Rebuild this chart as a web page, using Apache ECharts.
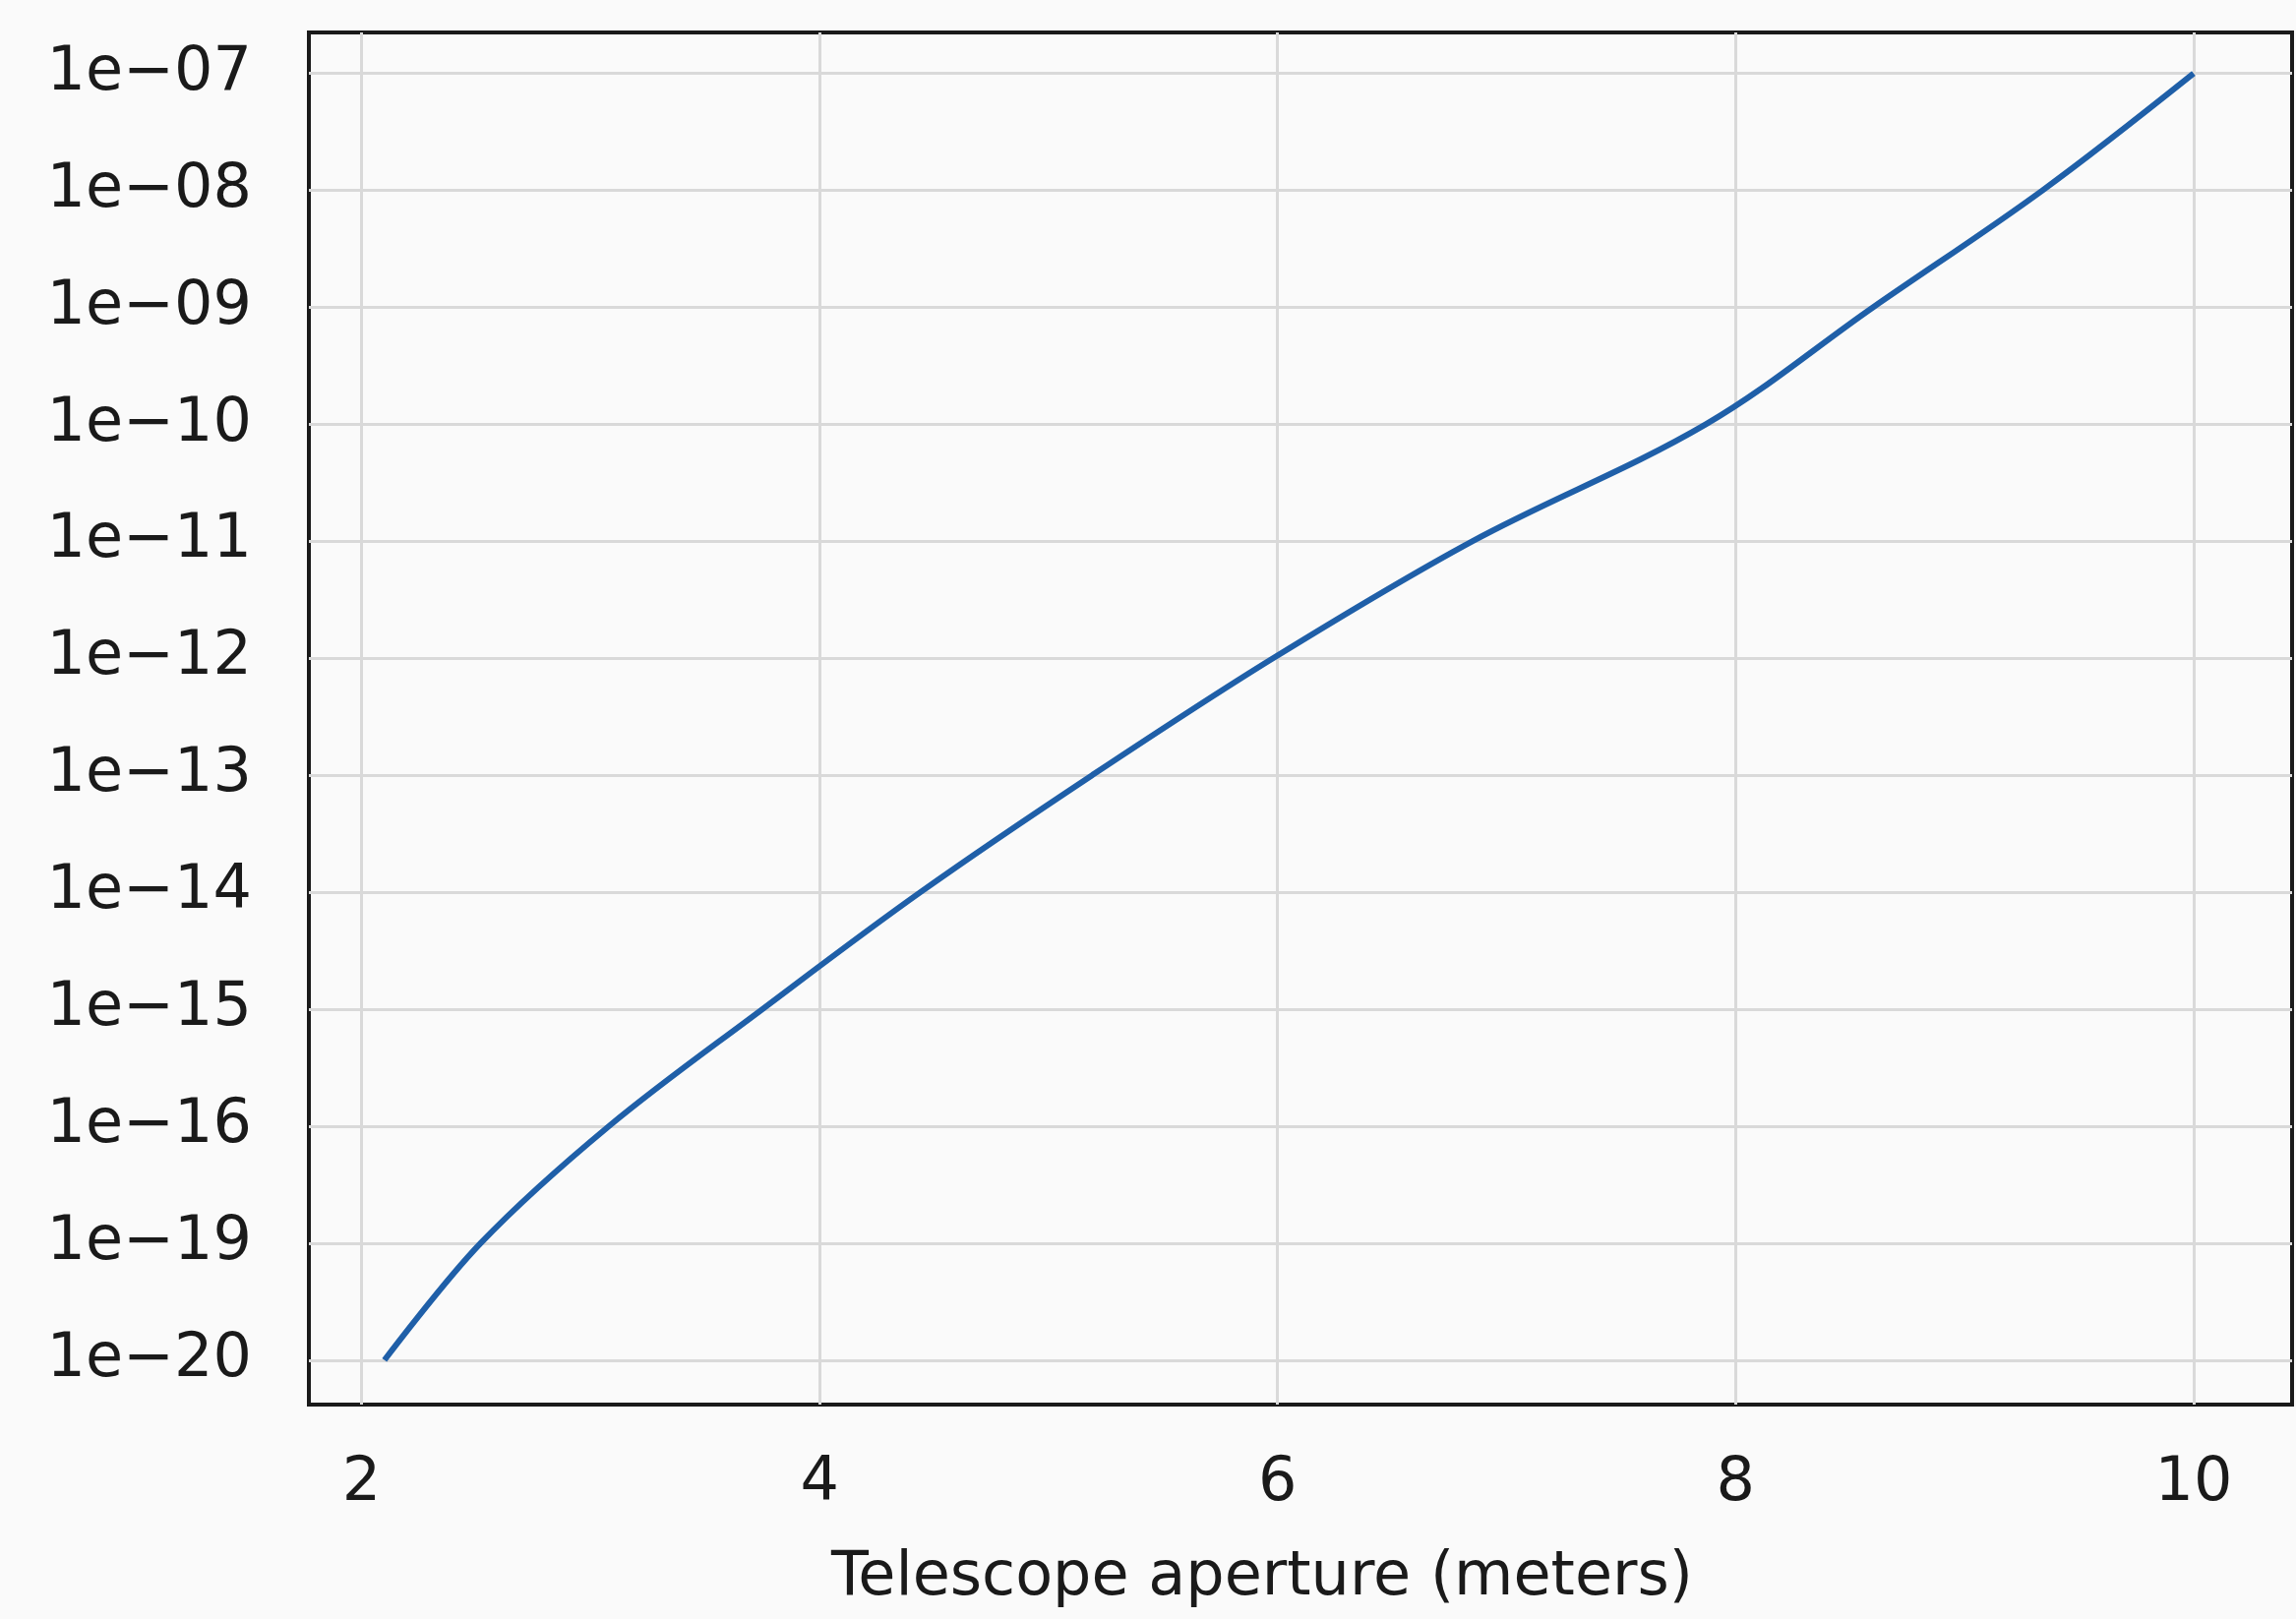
<!DOCTYPE html>
<html>
<head>
<meta charset="utf-8">
<title>Telescope aperture</title>
<script src="https://cdn.jsdelivr.net/npm/echarts@6/dist/echarts.min.js"></script>
<style>
	html, body { margin: 0; padding: 0; background: #fafafa; }
	#chart { width: 2334px; height: 1646px; }
</style>
</head>
<body>
<div id="chart"></div>
<script>
// tick labels of the y axis, bottom to top (one per grid row)
var yTickLabels = ['1e\u221220', '1e\u221219', '1e\u221216', '1e\u221215', '1e\u221214', '1e\u221213',
	'1e\u221212', '1e\u221211', '1e\u221210', '1e\u221209', '1e\u221208', '1e\u221207'];
var xTicks = [2, 4, 6, 8, 10];

// curve: aperture (m) where it crosses each y tick row
var apertures = [2.1, 2.52, 3.08, 3.75, 4.44, 5.19, 5.98, 6.85, 7.87, 8.6, 9.34, 10.0];
var yPositions = [0, 1, 2, 3, 4, 5, 6, 7, 8, 9, 10, 11];

var yTicks = yTickLabels.map(function (l, i) { return i; });
var seriesData = apertures.map(function (x, i) { return [x, yPositions[i]]; });

var font = 'DejaVu Sans';
var chart = echarts.init(document.getElementById('chart'));

var option = {
	animation: false,
	backgroundColor: '#fafafa',
	grid: {
		left: 314,
		right: 4,
		top: 33,
		bottom: 218,
		show: true,
		backgroundColor: '#fafafa',
		borderColor: '#1a1a1a',
		borderWidth: 4
	},
	xAxis: {
		type: 'value',
		min: 1.77,
		max: 10.43,
		name: 'Telescope aperture (meters)',
		nameLocation: 'middle',
		nameGap: 146,
		nameTextStyle: { fontFamily: font, fontSize: 62, color: '#1a1a1a', padding: [0, 78, 0, 0] },
		axisLine: { show: false },
		axisTick: { show: false, customValues: xTicks },
		axisLabel: {
			customValues: xTicks,
			margin: 50,
			fontFamily: font,
			fontSize: 62,
			color: '#1a1a1a'
		},
		splitLine: { show: true, lineStyle: { color: '#d9d9d9', width: 3 } }
	},
	yAxis: {
		type: 'value',
		min: -0.38,
		max: 11.35,
		axisLine: { show: false },
		axisTick: { show: false, customValues: yTicks },
		axisLabel: {
			customValues: yTicks,
			margin: 58,
			fontFamily: font,
			fontSize: 62,
			color: '#1a1a1a',
			formatter: function (v) { return yTickLabels[Math.round(v)]; }
		},
		splitLine: { show: true, lineStyle: { color: '#d9d9d9', width: 3 } }
	},
	series: [{
		type: 'line',
		data: seriesData,
		showSymbol: false,
		smooth: 0.35,
		lineStyle: { color: '#1f5fa8', width: 6 }
	}]
};

chart.setOption(option);
</script>
</body>
</html>
